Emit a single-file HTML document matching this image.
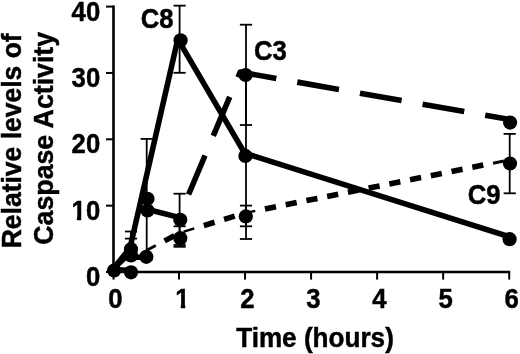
<!DOCTYPE html><html><head><meta charset="utf-8"><style>html,body{margin:0;padding:0;background:#fff;}svg{display:block;}</style></head><body>
<svg width="520" height="354" viewBox="0 0 520 354">
<rect width="520" height="354" fill="#fff"/>
<defs><clipPath id="clip10" clipPathUnits="userSpaceOnUse"><rect x="60" y="190" width="24" height="26.7"/><rect x="76.9" y="190" width="4.3" height="40"/><rect x="86.0" y="190" width="30" height="40"/></clipPath><clipPath id="clip1" clipPathUnits="userSpaceOnUse"><rect x="160" y="280" width="40" height="24.8"/><rect x="180.8" y="280" width="4.4" height="40"/></clipPath></defs>
<g stroke="#000" stroke-width="2.0" fill="none">
<path d="M113.50,5.60 V272.00 H510.20" stroke-width="2.6"/>
<path d="M106.00,272.00 H113.50"/>
<path d="M106.00,205.65 H113.50"/>
<path d="M106.00,139.30 H113.50"/>
<path d="M106.00,72.95 H113.50"/>
<path d="M106.00,6.60 H113.50"/>
<path d="M179.00,272.00 V279.60"/>
<path d="M245.04,272.00 V279.60"/>
<path d="M311.08,272.00 V279.60"/>
<path d="M377.12,272.00 V279.60"/>
<path d="M443.16,272.00 V279.60"/>
<path d="M509.20,272.00 V279.60"/>
<path d="M113.50,272.00 V279.60"/>
</g>
<g stroke="#000" stroke-width="1.8" fill="none">
<path d="M131.00,260.00 V231.50"/>
<path d="M124.90,231.50 H137.10"/>
<path d="M131.00,260.00 V238.60"/>
<path d="M124.90,238.60 H137.10"/>
<path d="M146.70,259.50 V138.90"/>
<path d="M140.60,138.90 H152.80"/>
<path d="M140.60,259.50 H152.80"/>
<path d="M179.60,72.80 V5.65"/>
<path d="M173.50,5.65 H185.70"/>
<path d="M173.50,72.80 H185.70"/>
<path d="M179.60,245.00 V193.70"/>
<path d="M173.50,193.70 H185.70"/>
<path d="M173.50,245.00 H185.70"/>
<path d="M179.60,246.80 V226.30"/>
<path d="M173.50,226.30 H185.70"/>
<path d="M173.50,246.80 H185.70"/>
<path d="M246.00,125.00 V24.70"/>
<path d="M239.90,24.70 H252.10"/>
<path d="M239.90,125.00 H252.10"/>
<path d="M246.00,239.00 V73.00"/>
<path d="M239.90,73.00 H252.10"/>
<path d="M239.90,239.00 H252.10"/>
<path d="M246.00,226.30 V205.60"/>
<path d="M239.90,205.60 H252.10"/>
<path d="M239.90,226.30 H252.10"/>
<path d="M509.70,193.30 V133.90"/>
<path d="M503.60,133.90 H515.80"/>
<path d="M503.60,193.30 H515.80"/>
</g>
<g fill="none" stroke="#000" stroke-width="5.6" stroke-linejoin="round">
<polyline points="113.50,268.50 130.00,248.00 177.80,39.10 244.60,153.20 509.60,236.80"/>
<polyline points="113.50,268.50 131.00,252.00"/>
<polyline points="144.97,214.62 147.00,209.20 178.90,217.40 180.29,214.11"/>
<polyline points="188.57,194.48 205.01,155.51"/>
<polyline points="213.29,135.88 229.73,96.91"/>
<polyline points="238.01,77.28 240.20,72.10 276.32,78.45"/>
<polyline points="297.30,82.13 338.96,89.45"/>
<polyline points="359.94,93.14 401.60,100.46"/>
<polyline points="422.58,104.14 464.24,111.46"/>
<polyline points="485.22,115.15 510.00,119.50"/>
<polyline points="113.50,269.50 131.00,270.50"/>
<polyline points="131.00,257.50 146.30,257.00"/>
<polyline points="146.30,250.50 155.79,245.50" stroke-width="2.8"/>
<polyline points="164.59,240.86 174.50,235.64"/>
<polyline points="183.61,231.75 194.32,228.47" stroke-width="2.4"/>
<polyline points="203.83,225.57 214.54,222.29"/>
<polyline points="224.05,219.39 234.76,216.11"/>
<polyline points="244.27,213.21 245.60,212.80 255.22,210.87" stroke-width="2.2"/>
<polyline points="264.97,208.91 275.95,206.71"/>
<polyline points="285.71,204.75 296.69,202.55"/>
<polyline points="306.44,200.59 317.42,198.39"/>
<polyline points="327.17,196.43 338.15,194.23"/>
<polyline points="347.90,192.27 358.88,190.07"/>
<polyline points="368.63,188.11 379.62,185.91"/>
<polyline points="389.37,183.95 400.35,181.75"/>
<polyline points="410.10,179.79 421.08,177.59"/>
<polyline points="430.83,175.63 441.81,173.43"/>
<polyline points="451.56,171.47 462.55,169.27"/>
<polyline points="472.30,167.31 483.28,165.11"/>
<polyline points="493.03,163.16 504.01,160.95" stroke-width="3.0"/>
</g>
<g fill="#000">
<circle cx="114.10" cy="270.50" r="7.1"/>
<circle cx="131.00" cy="249.20" r="7.1"/>
<circle cx="131.00" cy="255.50" r="7.1"/>
<circle cx="131.00" cy="272.30" r="7.1"/>
<circle cx="147.50" cy="198.80" r="7.1"/>
<circle cx="147.50" cy="210.50" r="7.1"/>
<circle cx="146.30" cy="256.80" r="7.1"/>
<circle cx="180.60" cy="40.30" r="7.1"/>
<circle cx="180.30" cy="219.80" r="7.1"/>
<circle cx="180.30" cy="238.20" r="7.1"/>
<circle cx="245.60" cy="75.00" r="7.1"/>
<circle cx="245.40" cy="155.90" r="7.1"/>
<circle cx="245.80" cy="216.40" r="7.1"/>
<circle cx="510.10" cy="122.60" r="7.1"/>
<circle cx="510.00" cy="163.50" r="7.1"/>
<circle cx="509.60" cy="239.20" r="7.1"/>
</g>
<g font-family="Liberation Sans, Arial, sans-serif" font-weight="bold" font-size="26.5" fill="#000" stroke="#000" stroke-width="0.45">
<text transform="translate(100.20,286.00) scale(0.97,1.03)" text-anchor="end">0</text>
<text transform="translate(100.20,153.30) scale(0.97,1.03)" text-anchor="end">20</text>
<text transform="translate(100.20,86.95) scale(0.97,1.03)" text-anchor="end">30</text>
<text transform="translate(100.20,20.60) scale(0.97,1.03)" text-anchor="end">40</text>
<text transform="translate(115.36,307.80) scale(0.97,1.03)" text-anchor="middle">0</text>
<text transform="translate(247.44,307.80) scale(0.97,1.03)" text-anchor="middle">2</text>
<text transform="translate(313.48,307.80) scale(0.97,1.03)" text-anchor="middle">3</text>
<text transform="translate(379.52,307.80) scale(0.97,1.03)" text-anchor="middle">4</text>
<text transform="translate(445.56,307.80) scale(0.97,1.03)" text-anchor="middle">5</text>
<text transform="translate(511.60,307.80) scale(0.97,1.03)" text-anchor="middle">6</text>
<g clip-path="url(#clip10)"><text transform="translate(100.20,219.65) scale(0.97,1.03)" text-anchor="end">10</text></g>
<g clip-path="url(#clip1)"><text transform="translate(182.30,307.80) scale(0.97,1.03)" text-anchor="middle">1</text></g>
<text transform="translate(315.00,347.30) scale(0.986,1.03)" text-anchor="middle">Time (hours)</text>
<text transform="translate(21.40,140.80) rotate(-90) scale(1.0,1.03)" text-anchor="middle">Relative levels of</text>
<text transform="translate(52.80,138.30) rotate(-90) scale(1.008,1.03)" text-anchor="middle">Caspase Activity</text>
<text transform="translate(140.80,28.20) scale(0.97,1.03)" text-anchor="start">C8</text>
<text transform="translate(254.00,60.00) scale(0.97,1.03)" text-anchor="start">C3</text>
<text transform="translate(467.70,203.70) scale(0.97,1.03)" text-anchor="start">C9</text>
</g>
</svg></body></html>
